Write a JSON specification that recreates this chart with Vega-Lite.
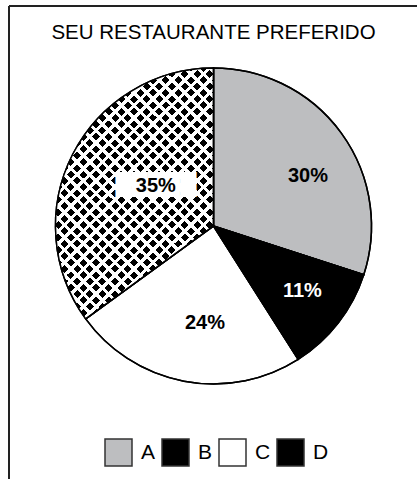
{
  "$schema": "https://vega.github.io/schema/vega-lite/v6.json",
  "width": 409,
  "height": 440,
  "padding": {"left": 8, "top": 5, "right": 0, "bottom": 0},
  "background": "white",
  "title": {"text": "SEU RESTAURANTE PREFERIDO", "font": "Liberation Sans", "fontSize": 20.5, "fontWeight": "normal", "color": "#000", "offset": -38, "anchor": "middle"},
  "config": {"view": {"stroke": null}},
  "data": {"values": [
    {"cat": "A", "v": 30, "label": "30%"},
    {"cat": "B", "v": 11, "label": "11%"},
    {"cat": "C", "v": 24, "label": "24%"},
    {"cat": "D", "v": 35, "label": "35%"}
  ]},
  "layer": [
    {"data": {"values": [{}]}, "mark": {"type": "rule", "color": "#222", "strokeWidth": 2}, "encoding": {"y": {"value": 0}}},
    {"data": {"values": [{}]}, "mark": {"type": "rule", "color": "#222", "strokeWidth": 2}, "encoding": {"x": {"value": 0}, "y": {"value": 0}, "y2": {"value": 474}}},
    {
      "mark": {"type": "arc", "radius": 158, "stroke": "#000", "strokeWidth": 1.5},
      "encoding": {
        "theta": {"field": "v", "type": "quantitative", "stack": true},
        "order": {"field": "cat"},
        "color": {"field": "cat", "type": "nominal",
          "scale": {"domain": ["A", "B", "C", "D"], "range": ["#bdbec0", "#000000", "#ffffff", "#000000"]},
          "legend": {"title": null, "orient": "none", "direction": "horizontal", "legendX": 95, "legendY": 432,
            "symbolType": "square", "symbolSize": 729, "symbolStrokeColor": "#333", "symbolStrokeWidth": 1.5, "symbolOpacity": 1,
            "labelFont": "Liberation Sans", "labelFontSize": 21, "labelColor": "#000", "labelOffset": 8, "columnPadding": 3, "padding": 0,
            "encode": {"symbols": {"update": {
              "shape": {"condition": {"test": "datum.value === 'D'", "value": "M-1,-1H1V1H-1Z M-1,-0.5L-0.5,-1 M-1,0L0,-1 M-1,0.5L0.5,-1 M-1,1L1,-1 M-0.5,1L1,-0.5 M0,1L1,0 M0.5,1L1,0.5 M-1,0.5L-0.5,1 M-1,0L0,1 M-1,-0.5L0.5,1 M-1,-1L1,1 M-0.5,-1L1,0.5 M0,-1L1,0 M0.5,-1L1,-0.5"}, "value": "square"},
              "stroke": {"condition": {"test": "datum.value === 'D'", "value": "#ffffff"}, "value": "#333333"},
              "strokeWidth": {"condition": {"test": "datum.value === 'D'", "value": 1.7}, "value": 1.5},
              "fill": {"condition": [
                {"test": "datum.value === 'A'", "value": "#bdbec0"},
                {"test": "datum.value === 'C'", "value": "#ffffff"}
              ], "value": "#000000"}
            }}}
          }
        }
      }
    },
    {
      "mark": {"type": "arc", "radius": 158},
      "encoding": {
        "theta": {"field": "v", "type": "quantitative", "stack": true},
        "order": {"field": "cat"},
        "detail": {"field": "cat"},
        "fill": {"condition": {"test": "datum.cat === 'D'", "value": {"gradient": "linear", "x1": 0, "y1": 0, "x2": 0.752, "y2": 1.2, "stops": [
          {"offset": 0, "color": "#fff"}, {"offset": 0.011, "color": "#fff"}, {"offset": 0.011, "color": "transparent"}, {"offset": 0.03, "color": "transparent"},
          {"offset": 0.03, "color": "#fff"}, {"offset": 0.041, "color": "#fff"}, {"offset": 0.041, "color": "transparent"}, {"offset": 0.06, "color": "transparent"},
          {"offset": 0.06, "color": "#fff"}, {"offset": 0.071, "color": "#fff"}, {"offset": 0.071, "color": "transparent"}, {"offset": 0.09, "color": "transparent"},
          {"offset": 0.09, "color": "#fff"}, {"offset": 0.101, "color": "#fff"}, {"offset": 0.101, "color": "transparent"}, {"offset": 0.12, "color": "transparent"},
          {"offset": 0.12, "color": "#fff"}, {"offset": 0.131, "color": "#fff"}, {"offset": 0.131, "color": "transparent"}, {"offset": 0.15, "color": "transparent"},
          {"offset": 0.15, "color": "#fff"}, {"offset": 0.161, "color": "#fff"}, {"offset": 0.161, "color": "transparent"}, {"offset": 0.18, "color": "transparent"},
          {"offset": 0.18, "color": "#fff"}, {"offset": 0.191, "color": "#fff"}, {"offset": 0.191, "color": "transparent"}, {"offset": 0.21, "color": "transparent"},
          {"offset": 0.21, "color": "#fff"}, {"offset": 0.221, "color": "#fff"}, {"offset": 0.221, "color": "transparent"}, {"offset": 0.24, "color": "transparent"},
          {"offset": 0.24, "color": "#fff"}, {"offset": 0.251, "color": "#fff"}, {"offset": 0.251, "color": "transparent"}, {"offset": 0.27, "color": "transparent"},
          {"offset": 0.27, "color": "#fff"}, {"offset": 0.281, "color": "#fff"}, {"offset": 0.281, "color": "transparent"}, {"offset": 0.3, "color": "transparent"},
          {"offset": 0.3, "color": "#fff"}, {"offset": 0.311, "color": "#fff"}, {"offset": 0.311, "color": "transparent"}, {"offset": 0.33, "color": "transparent"},
          {"offset": 0.33, "color": "#fff"}, {"offset": 0.341, "color": "#fff"}, {"offset": 0.341, "color": "transparent"}, {"offset": 0.36, "color": "transparent"},
          {"offset": 0.36, "color": "#fff"}, {"offset": 0.371, "color": "#fff"}, {"offset": 0.371, "color": "transparent"}, {"offset": 0.39, "color": "transparent"},
          {"offset": 0.39, "color": "#fff"}, {"offset": 0.401, "color": "#fff"}, {"offset": 0.401, "color": "transparent"}, {"offset": 0.42, "color": "transparent"},
          {"offset": 0.42, "color": "#fff"}, {"offset": 0.431, "color": "#fff"}, {"offset": 0.431, "color": "transparent"}, {"offset": 0.45, "color": "transparent"},
          {"offset": 0.45, "color": "#fff"}, {"offset": 0.461, "color": "#fff"}, {"offset": 0.461, "color": "transparent"}, {"offset": 0.48, "color": "transparent"},
          {"offset": 0.48, "color": "#fff"}, {"offset": 0.491, "color": "#fff"}, {"offset": 0.491, "color": "transparent"}, {"offset": 0.51, "color": "transparent"},
          {"offset": 0.51, "color": "#fff"}, {"offset": 0.521, "color": "#fff"}, {"offset": 0.521, "color": "transparent"}, {"offset": 0.54, "color": "transparent"},
          {"offset": 0.54, "color": "#fff"}, {"offset": 0.551, "color": "#fff"}, {"offset": 0.551, "color": "transparent"}, {"offset": 0.57, "color": "transparent"},
          {"offset": 0.57, "color": "#fff"}, {"offset": 0.581, "color": "#fff"}, {"offset": 0.581, "color": "transparent"}, {"offset": 0.6, "color": "transparent"},
          {"offset": 0.6, "color": "#fff"}, {"offset": 0.611, "color": "#fff"}, {"offset": 0.611, "color": "transparent"}, {"offset": 0.63, "color": "transparent"},
          {"offset": 0.63, "color": "#fff"}, {"offset": 0.641, "color": "#fff"}, {"offset": 0.641, "color": "transparent"}, {"offset": 0.66, "color": "transparent"},
          {"offset": 0.66, "color": "#fff"}, {"offset": 0.671, "color": "#fff"}, {"offset": 0.671, "color": "transparent"}, {"offset": 0.69, "color": "transparent"},
          {"offset": 0.69, "color": "#fff"}, {"offset": 0.701, "color": "#fff"}, {"offset": 0.701, "color": "transparent"}, {"offset": 0.72, "color": "transparent"},
          {"offset": 0.72, "color": "#fff"}, {"offset": 0.731, "color": "#fff"}, {"offset": 0.731, "color": "transparent"}, {"offset": 0.75, "color": "transparent"},
          {"offset": 0.75, "color": "#fff"}, {"offset": 0.761, "color": "#fff"}, {"offset": 0.761, "color": "transparent"}, {"offset": 0.78, "color": "transparent"},
          {"offset": 0.78, "color": "#fff"}, {"offset": 0.791, "color": "#fff"}, {"offset": 0.791, "color": "transparent"}, {"offset": 0.81, "color": "transparent"},
          {"offset": 0.81, "color": "#fff"}, {"offset": 0.821, "color": "#fff"}, {"offset": 0.821, "color": "transparent"}, {"offset": 0.84, "color": "transparent"},
          {"offset": 0.84, "color": "#fff"}, {"offset": 0.851, "color": "#fff"}, {"offset": 0.851, "color": "transparent"}, {"offset": 0.87, "color": "transparent"},
          {"offset": 0.87, "color": "#fff"}, {"offset": 0.881, "color": "#fff"}, {"offset": 0.881, "color": "transparent"}, {"offset": 0.9, "color": "transparent"},
          {"offset": 0.9, "color": "#fff"}, {"offset": 0.911, "color": "#fff"}, {"offset": 0.911, "color": "transparent"}, {"offset": 0.93, "color": "transparent"},
          {"offset": 0.93, "color": "#fff"}, {"offset": 0.941, "color": "#fff"}, {"offset": 0.941, "color": "transparent"}, {"offset": 0.96, "color": "transparent"},
          {"offset": 0.96, "color": "#fff"}, {"offset": 0.971, "color": "#fff"}, {"offset": 0.971, "color": "transparent"}, {"offset": 1, "color": "transparent"}
        ]}}, "value": "transparent"}
      }
    },
    {
      "mark": {"type": "arc", "radius": 158},
      "encoding": {
        "theta": {"field": "v", "type": "quantitative", "stack": true},
        "order": {"field": "cat"},
        "detail": {"field": "cat"},
        "fill": {"condition": {"test": "datum.cat === 'D'", "value": {"gradient": "linear", "x1": 0, "y1": 1, "x2": 0.752, "y2": -0.2, "stops": [
          {"offset": 0, "color": "#fff"}, {"offset": 0.011, "color": "#fff"}, {"offset": 0.011, "color": "transparent"}, {"offset": 0.03, "color": "transparent"},
          {"offset": 0.03, "color": "#fff"}, {"offset": 0.041, "color": "#fff"}, {"offset": 0.041, "color": "transparent"}, {"offset": 0.06, "color": "transparent"},
          {"offset": 0.06, "color": "#fff"}, {"offset": 0.071, "color": "#fff"}, {"offset": 0.071, "color": "transparent"}, {"offset": 0.09, "color": "transparent"},
          {"offset": 0.09, "color": "#fff"}, {"offset": 0.101, "color": "#fff"}, {"offset": 0.101, "color": "transparent"}, {"offset": 0.12, "color": "transparent"},
          {"offset": 0.12, "color": "#fff"}, {"offset": 0.131, "color": "#fff"}, {"offset": 0.131, "color": "transparent"}, {"offset": 0.15, "color": "transparent"},
          {"offset": 0.15, "color": "#fff"}, {"offset": 0.161, "color": "#fff"}, {"offset": 0.161, "color": "transparent"}, {"offset": 0.18, "color": "transparent"},
          {"offset": 0.18, "color": "#fff"}, {"offset": 0.191, "color": "#fff"}, {"offset": 0.191, "color": "transparent"}, {"offset": 0.21, "color": "transparent"},
          {"offset": 0.21, "color": "#fff"}, {"offset": 0.221, "color": "#fff"}, {"offset": 0.221, "color": "transparent"}, {"offset": 0.24, "color": "transparent"},
          {"offset": 0.24, "color": "#fff"}, {"offset": 0.251, "color": "#fff"}, {"offset": 0.251, "color": "transparent"}, {"offset": 0.27, "color": "transparent"},
          {"offset": 0.27, "color": "#fff"}, {"offset": 0.281, "color": "#fff"}, {"offset": 0.281, "color": "transparent"}, {"offset": 0.3, "color": "transparent"},
          {"offset": 0.3, "color": "#fff"}, {"offset": 0.311, "color": "#fff"}, {"offset": 0.311, "color": "transparent"}, {"offset": 0.33, "color": "transparent"},
          {"offset": 0.33, "color": "#fff"}, {"offset": 0.341, "color": "#fff"}, {"offset": 0.341, "color": "transparent"}, {"offset": 0.36, "color": "transparent"},
          {"offset": 0.36, "color": "#fff"}, {"offset": 0.371, "color": "#fff"}, {"offset": 0.371, "color": "transparent"}, {"offset": 0.39, "color": "transparent"},
          {"offset": 0.39, "color": "#fff"}, {"offset": 0.401, "color": "#fff"}, {"offset": 0.401, "color": "transparent"}, {"offset": 0.42, "color": "transparent"},
          {"offset": 0.42, "color": "#fff"}, {"offset": 0.431, "color": "#fff"}, {"offset": 0.431, "color": "transparent"}, {"offset": 0.45, "color": "transparent"},
          {"offset": 0.45, "color": "#fff"}, {"offset": 0.461, "color": "#fff"}, {"offset": 0.461, "color": "transparent"}, {"offset": 0.48, "color": "transparent"},
          {"offset": 0.48, "color": "#fff"}, {"offset": 0.491, "color": "#fff"}, {"offset": 0.491, "color": "transparent"}, {"offset": 0.51, "color": "transparent"},
          {"offset": 0.51, "color": "#fff"}, {"offset": 0.521, "color": "#fff"}, {"offset": 0.521, "color": "transparent"}, {"offset": 0.54, "color": "transparent"},
          {"offset": 0.54, "color": "#fff"}, {"offset": 0.551, "color": "#fff"}, {"offset": 0.551, "color": "transparent"}, {"offset": 0.57, "color": "transparent"},
          {"offset": 0.57, "color": "#fff"}, {"offset": 0.581, "color": "#fff"}, {"offset": 0.581, "color": "transparent"}, {"offset": 0.6, "color": "transparent"},
          {"offset": 0.6, "color": "#fff"}, {"offset": 0.611, "color": "#fff"}, {"offset": 0.611, "color": "transparent"}, {"offset": 0.63, "color": "transparent"},
          {"offset": 0.63, "color": "#fff"}, {"offset": 0.641, "color": "#fff"}, {"offset": 0.641, "color": "transparent"}, {"offset": 0.66, "color": "transparent"},
          {"offset": 0.66, "color": "#fff"}, {"offset": 0.671, "color": "#fff"}, {"offset": 0.671, "color": "transparent"}, {"offset": 0.69, "color": "transparent"},
          {"offset": 0.69, "color": "#fff"}, {"offset": 0.701, "color": "#fff"}, {"offset": 0.701, "color": "transparent"}, {"offset": 0.72, "color": "transparent"},
          {"offset": 0.72, "color": "#fff"}, {"offset": 0.731, "color": "#fff"}, {"offset": 0.731, "color": "transparent"}, {"offset": 0.75, "color": "transparent"},
          {"offset": 0.75, "color": "#fff"}, {"offset": 0.761, "color": "#fff"}, {"offset": 0.761, "color": "transparent"}, {"offset": 0.78, "color": "transparent"},
          {"offset": 0.78, "color": "#fff"}, {"offset": 0.791, "color": "#fff"}, {"offset": 0.791, "color": "transparent"}, {"offset": 0.81, "color": "transparent"},
          {"offset": 0.81, "color": "#fff"}, {"offset": 0.821, "color": "#fff"}, {"offset": 0.821, "color": "transparent"}, {"offset": 0.84, "color": "transparent"},
          {"offset": 0.84, "color": "#fff"}, {"offset": 0.851, "color": "#fff"}, {"offset": 0.851, "color": "transparent"}, {"offset": 0.87, "color": "transparent"},
          {"offset": 0.87, "color": "#fff"}, {"offset": 0.881, "color": "#fff"}, {"offset": 0.881, "color": "transparent"}, {"offset": 0.9, "color": "transparent"},
          {"offset": 0.9, "color": "#fff"}, {"offset": 0.911, "color": "#fff"}, {"offset": 0.911, "color": "transparent"}, {"offset": 0.93, "color": "transparent"},
          {"offset": 0.93, "color": "#fff"}, {"offset": 0.941, "color": "#fff"}, {"offset": 0.941, "color": "transparent"}, {"offset": 0.96, "color": "transparent"},
          {"offset": 0.96, "color": "#fff"}, {"offset": 0.971, "color": "#fff"}, {"offset": 0.971, "color": "transparent"}, {"offset": 1, "color": "transparent"}
        ]}}, "value": "transparent"}
      }
    },
    {
      "mark": {"type": "arc", "radius": 158, "fillOpacity": 0, "stroke": "#000", "strokeWidth": 1.5},
      "encoding": {
        "theta": {"field": "v", "type": "quantitative", "stack": true},
        "order": {"field": "cat"},
        "detail": {"field": "cat"}
      }
    },
    {
      "mark": {"type": "text", "radius": 107, "thetaOffset": 0.14, "font": "Liberation Sans", "fontSize": 20, "fontWeight": "bold", "color": "#000000"},
      "encoding": {
        "theta": {"field": "v", "type": "quantitative", "stack": true},
        "order": {"field": "cat"},
        "detail": {"field": "cat"},
        "text": {"field": "label", "type": "nominal", "condition": {"test": "datum.cat !== 'A'", "value": ""}}
      }
    },
    {
      "mark": {"type": "text", "radius": 110, "thetaOffset": -0.03, "font": "Liberation Sans", "fontSize": 20, "fontWeight": "bold", "color": "#ffffff"},
      "encoding": {
        "theta": {"field": "v", "type": "quantitative", "stack": true},
        "order": {"field": "cat"},
        "detail": {"field": "cat"},
        "text": {"field": "label", "type": "nominal", "condition": {"test": "datum.cat !== 'B'", "value": ""}}
      }
    },
    {
      "mark": {"type": "text", "radius": 97, "thetaOffset": -0.1, "font": "Liberation Sans", "fontSize": 20, "fontWeight": "bold", "color": "#000000"},
      "encoding": {
        "theta": {"field": "v", "type": "quantitative", "stack": true},
        "order": {"field": "cat"},
        "detail": {"field": "cat"},
        "text": {"field": "label", "type": "nominal", "condition": {"test": "datum.cat !== 'C'", "value": ""}}
      }
    },
    {
      "mark": {"type": "text", "radius": 70, "thetaOffset": 0.13, "font": "DejaVu Sans", "fontSize": 21, "color": "#ffffff"},
      "encoding": {
        "theta": {"field": "v", "type": "quantitative", "stack": true},
        "order": {"field": "cat"},
        "detail": {"field": "cat"},
        "text": {"condition": {"test": "datum.cat === 'D'", "value": "█████"}, "value": ""}
      }
    },
    {
      "mark": {"type": "text", "radius": 70, "thetaOffset": 0.13, "font": "Liberation Sans", "fontSize": 20, "fontWeight": "bold", "color": "#000000"},
      "encoding": {
        "theta": {"field": "v", "type": "quantitative", "stack": true},
        "order": {"field": "cat"},
        "detail": {"field": "cat"},
        "text": {"field": "label", "type": "nominal", "condition": {"test": "datum.cat !== 'D'", "value": ""}}
      }
    }
  ]
}
